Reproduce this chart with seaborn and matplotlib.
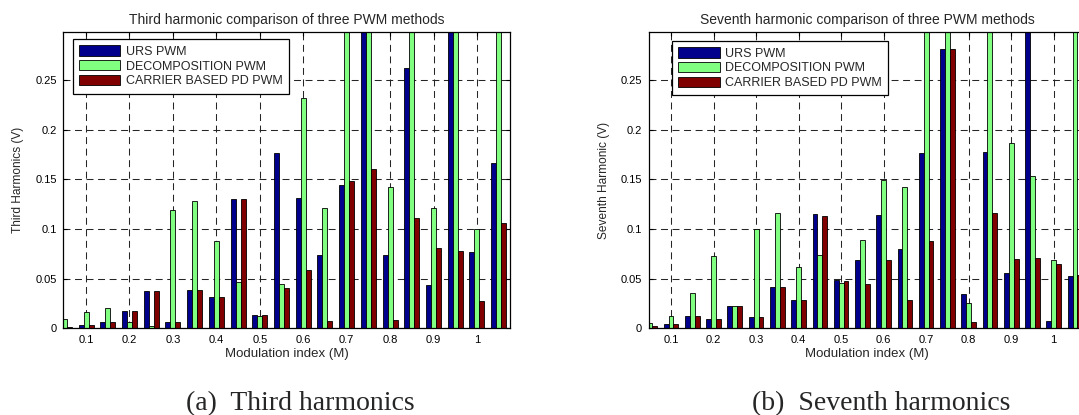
import matplotlib
matplotlib.use("Agg")
import matplotlib.pyplot as plt
import seaborn as sns
import pandas as pd
from matplotlib.patches import Patch

# ---------------- data ----------------
M = [0.05, 0.10, 0.15, 0.20, 0.25, 0.30, 0.35, 0.40, 0.45, 0.50, 0.55,
     0.60, 0.65, 0.70, 0.75, 0.80, 0.85, 0.90, 0.95, 1.00, 1.05]
methods = ["URS PWM", "DECOMPOSITION PWM", "CARRIER BASED PD PWM"]

# third harmonic (V)
urs3 = [0.001, 0.003, 0.006, 0.0176, 0.0376, 0.006, 0.0386, 0.0315, 0.130, 0.0136, 0.176,
        0.131, 0.0736, 0.1445, 0.35, 0.0736, 0.2615, 0.0435, 0.35, 0.0763, 0.166]
dec3 = [0.0092, 0.0163, 0.020, 0.006, 0.0024, 0.119, 0.128, 0.0875, 0.0468, 0.0122, 0.0447,
        0.232, 0.121, 0.35, 0.35, 0.1425, 0.35, 0.1207, 0.35, 0.100, 0.35]
pd3 = [0.001, 0.003, 0.006, 0.0173, 0.0376, 0.006, 0.0386, 0.0315, 0.130, 0.0136, 0.0405,
       0.0585, 0.0074, 0.148, 0.1605, 0.0084, 0.111, 0.0806, 0.0773, 0.0274, 0.1064]

# seventh harmonic (V)
urs7 = [0.001, 0.004, 0.0125, 0.0095, 0.0224, 0.0115, 0.0414, 0.0288, 0.1146, 0.049, 0.0686,
        0.114, 0.080, 0.176, 0.2806, 0.0348, 0.177, 0.0555, 0.35, 0.0074, 0.0525]
dec7 = [0.0058, 0.012, 0.0356, 0.0732, 0.0224, 0.0997, 0.1156, 0.0617, 0.0735, 0.046, 0.0893,
        0.1495, 0.1425, 0.35, 0.35, 0.0251, 0.35, 0.1863, 0.1528, 0.0692, 0.35]
pd7 = [0.0024, 0.004, 0.0125, 0.0095, 0.0224, 0.0115, 0.0414, 0.0288, 0.1135, 0.048, 0.0441,
       0.0692, 0.0284, 0.0883, 0.2813, 0.0064, 0.1164, 0.0702, 0.0712, 0.0652, 0.0535]

xticks = [0.1, 0.2, 0.3, 0.4, 0.5, 0.6, 0.7, 0.8, 0.9, 1.0]
xticklabels = ["0.1", "0.2", "0.3", "0.4", "0.5", "0.6", "0.7", "0.8", "0.9", "1"]
yticks = [0, 0.05, 0.10, 0.15, 0.20, 0.25]
yticklabels = ["0", "0.05", "0.1", "0.15", "0.2", "0.25"]

colors = ["#00008C", "#80FF80", "#800000"]

# ---------------- style ----------------
sns.set_style("ticks")
plt.rcParams["font.family"] = ["Liberation Sans", "DejaVu Sans"]
plt.rcParams["lines.scale_dashes"] = False

W, H = 1079, 415
fig = plt.figure(figsize=(W / 100, H / 100), dpi=100)


def axes_px(x0, y0, x1, y1):
    return fig.add_axes([x0 / W, 1 - y1 / H, (x1 - x0) / W, (y1 - y0) / H])


def make_df(a, b, c):
    rows = []
    for name, vals in zip(methods, (a, b, c)):
        for m, v in zip(M, vals):
            rows.append({"M": m, "value": v, "method": name})
    return pd.DataFrame(rows)


def draw(ax, df, title, ylabel, legend_anchor):
    sns.barplot(data=df, x="M", y="value", hue="method", hue_order=methods,
                palette=dict(zip(methods, colors)), native_scale=True,
                width=0.69, dodge=True, gap=0, saturation=1, errorbar=None,
                edgecolor="black", linewidth=0.6, legend=False, ax=ax)
    ax.set_axisbelow(True)
    ax.set_xlim(0.047, 1.076)
    ax.set_ylim(0, 0.2985)
    ax.set_xticks(xticks)
    ax.set_xticklabels(xticklabels)
    ax.set_yticks(yticks)
    ax.set_yticklabels(yticklabels)
    ax.grid(True, color="0.15", linewidth=0.75, linestyle=(0, (5, 3.3)))
    ax.tick_params(direction="in", length=3, width=0.8, top=True, right=True,
                   labelsize=8, pad=4.5, colors="black")
    for s in ax.spines.values():
        s.set_visible(True)
        s.set_color("black")
        s.set_linewidth(0.9)
    ax.set_title(title, fontsize=10, pad=5.5)
    ax.set_xlabel("Modulation index (M)", fontsize=9.5, labelpad=2.5)
    ax.set_ylabel(ylabel, fontsize=8.6, labelpad=8)
    handles = [Patch(facecolor=c, edgecolor="black", linewidth=0.6) for c in colors]
    leg = ax.legend(handles, methods, loc="upper left", bbox_to_anchor=legend_anchor,
                    borderaxespad=0, fontsize=9, handlelength=3.3, handleheight=0.9,
                    handletextpad=0.45, labelspacing=0.18, borderpad=0.5,
                    fancybox=False, framealpha=1, edgecolor="black")
    leg.get_frame().set_linewidth(0.9)


ax1 = axes_px(63, 31.7, 510, 328.3)
ax2 = axes_px(648.5, 31.7, 1086, 328.3)

draw(ax1, make_df(urs3, dec3, pd3), "Third harmonic comparison of three PWM methods",
     "Third Harmonics (V)", (0.022, 0.975))
draw(ax2, make_df(urs7, dec7, pd7), "Seventh harmonic comparison of three PWM methods",
     "Seventh Harmonic (V)", (0.054, 0.969))

fig.text(300 / W, 1 - 410 / H, "(a)  Third harmonics", ha="center", va="baseline",
         family=["Liberation Serif"], fontsize=20)
fig.text(881 / W, 1 - 410 / H, "(b)  Seventh harmonics", ha="center", va="baseline",
         family=["Liberation Serif"], fontsize=20)

fig.savefig("out.png", dpi=100, facecolor="white")
